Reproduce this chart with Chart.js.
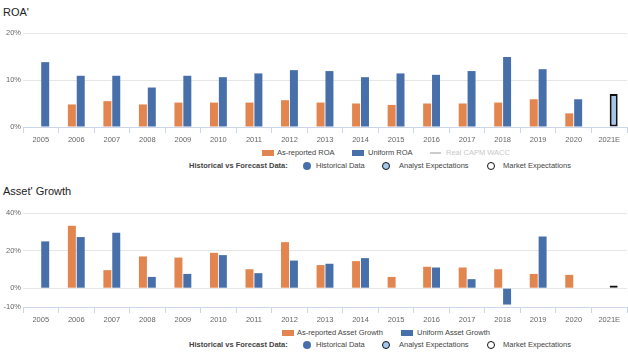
<!DOCTYPE html>
<html><head><meta charset="utf-8">
<script src="https://cdn.jsdelivr.net/npm/chart.js@4/dist/chart.umd.min.js"></script>
<style>
html,body{margin:0;padding:0;background:#fff;width:628px;height:355px;overflow:hidden;font-family:"Liberation Sans",Arial,sans-serif;}
#wrap{position:relative;width:628px;height:355px;}
canvas{position:absolute;left:0;}
.title{position:absolute;left:3px;font-size:11px;color:#222;white-space:nowrap;line-height:1;}
.lt{position:absolute;font-size:7.5px;color:#444;white-space:nowrap;line-height:1;transform:translateY(-50%);}
.lb{font-weight:bold;color:#444;}
.sq{position:absolute;width:12px;height:6px;transform:translateY(-50%);}
.ln{position:absolute;width:11px;height:2px;background:#ccc;transform:translateY(-50%);}
.dot{position:absolute;width:8px;height:8px;border-radius:50%;box-sizing:border-box;transform:translate(-50%,-50%);}
</style></head>
<body><div id="wrap">
<div class="title" style="top:7px">ROA'</div>
<canvas id="c1" width="628" height="122" style="top:25px"></canvas>
<div class="title" style="top:186px">Asset' Growth</div>
<canvas id="c2" width="628" height="127" style="top:200px"></canvas>
<div id="leg"></div>
</div>
<script>
const categories = ["2005","2006","2007","2008","2009","2010","2011","2012","2013","2014","2015","2016","2017","2018","2019","2020","2021E"];
const roaReported = [null,4.8,5.5,4.8,5.2,5.2,5.2,5.7,5.2,5.0,4.7,5.0,5.0,5.2,5.9,2.9,null];
const roaUniform  = [13.8,10.9,10.9,8.4,10.9,10.6,11.4,12.1,11.9,10.6,11.4,11.1,11.9,14.9,12.3,5.9,7.0];
const assetReported = [null,33.2,9.6,16.9,16.3,18.8,10.1,24.5,12.3,14.4,6.0,11.4,11.0,10.1,7.6,7.1,null];
const assetUniform  = [24.9,27.2,29.5,6.0,7.6,17.6,8.0,14.7,13.0,16.0,null,11.0,4.8,-8.7,27.5,null,1.5];
const roaTicks = [0,10,20];
const assetTicks = [-10,0,20,40];

const ORANGE = '#e3854f', BLUE = '#4770ab', LIGHT = '#a3c6ec';
const n = categories.length;
const blueFill = categories.map((c,i)=> i===n-1 ? LIGHT : BLUE);
const blueBorder = categories.map((c,i)=> i===n-1 ? '#111' : BLUE);
const blueBW = categories.map((c,i)=> i===n-1 ? 2 : 0);
const tickFont = {family:'"Liberation Sans", Arial, sans-serif', size:7.5};

function makeChart(id, rep, uni, ticks, padTop){
  new Chart(document.getElementById(id), {
    type:'bar',
    data:{labels:categories, datasets:[
      {data:rep, backgroundColor:ORANGE, borderWidth:0, categoryPercentage:0.5, barPercentage:0.9},
      {data:uni, backgroundColor:blueFill, borderColor:blueBorder, borderWidth:blueBW, borderSkipped:false, categoryPercentage:0.5, barPercentage:0.9}
    ]},
    options:{
      responsive:false, animation:false, devicePixelRatio:1,
      layout:{padding:{top:padTop,right:1,left:0,bottom:0}},
      plugins:{legend:{display:false}, tooltip:{enabled:false}},
      scales:{
        x:{
          afterFit(s){s.height=20;},
          grid:{offset:true, drawOnChartArea:false, drawTicks:true, tickLength:6, color:'#ccd6eb'},
          border:{color:'#ccd6eb'},
          ticks:{font:tickFont, color:'#666', padding:2, maxRotation:0, autoSkip:false}
        },
        y:{
          min:ticks[0], max:ticks[ticks.length-1],
          afterFit(s){s.width=23;},
          afterBuildTicks(s){s.ticks = ticks.map(v=>({value:v}));},
          grid:{color:'#e6e6e6', drawTicks:false},
          border:{display:false},
          ticks:{font:tickFont, color:'#666', padding:2, callback:v=>v+'%'}
        }
      }
    }
  });
}
makeChart('c1', roaReported, roaUniform, roaTicks, 8);
makeChart('c2', assetReported, assetUniform, assetTicks, 13);

const leg = document.getElementById('leg');
function add(html){leg.insertAdjacentHTML('beforeend', html);}
function row1(y, items){
  items.forEach(it=>{
    if(it.type==='sq') add(`<div class="sq" style="left:${it.x}px;top:${y}px;background:${it.c}"></div>`);
    else add(`<div class="ln" style="left:${it.x}px;top:${y}px"></div>`);
    add(`<div class="lt" style="left:${it.tx}px;top:${y}px;color:${it.tc||'#444'}">${it.t}</div>`);
  });
}
function row2(y){
  add(`<div class="lt lb" style="left:189px;top:${y}px">Historical vs Forecast Data:</div>`);
  add(`<div class="dot" style="left:307px;top:${y}px;background:${BLUE}"></div>`);
  add(`<div class="lt" style="left:316px;top:${y}px">Historical Data</div>`);
  add(`<div class="dot" style="left:386px;top:${y}px;background:${LIGHT};border:1.6px solid #111"></div>`);
  add(`<div class="lt" style="left:399px;top:${y}px">Analyst Expectations</div>`);
  add(`<div class="dot" style="left:491px;top:${y}px;background:#fff;border:1.6px solid #111"></div>`);
  add(`<div class="lt" style="left:503px;top:${y}px">Market Expectations</div>`);
}
row1(152.5, [
  {type:'sq', x:262, c:ORANGE, tx:277, t:'As-reported ROA'},
  {type:'sq', x:352, c:BLUE, tx:368, t:'Uniform ROA'},
  {type:'ln', x:430, tx:446, t:'Real CAPM WACC', tc:'#c8c8c8'}
]);
row2(165.5);
row1(332.5, [
  {type:'sq', x:282, c:ORANGE, tx:297, t:'As-reported Asset Growth'},
  {type:'sq', x:401, c:BLUE, tx:417, t:'Uniform Asset Growth'}
]);
row2(345);
</script>
</body></html>
